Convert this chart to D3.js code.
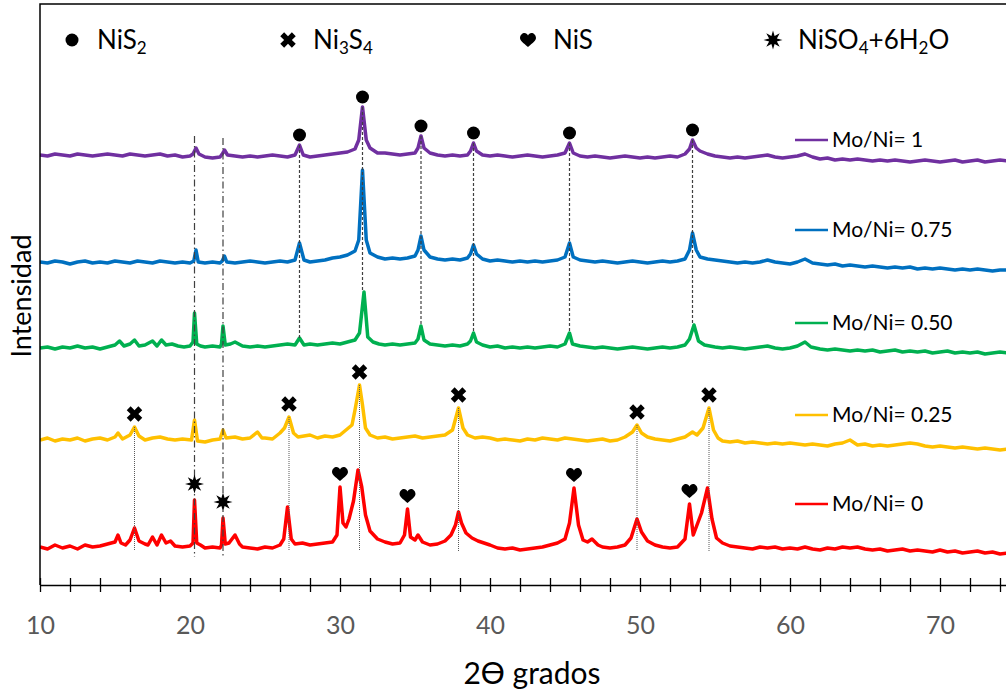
<!DOCTYPE html>
<html>
<head>
<meta charset="utf-8">
<script src="https://cdn.jsdelivr.net/npm/d3@7"></script>
<style>
  body { margin: 0; background: #fff; }
  svg { display: block; font-family: Lato, "Open Sans", sans-serif; }
</style>
</head>
<body>
<div id="chart-area"></div>
<script>
// XRD patterns, [2θ, intensity] (arbitrary units)
const seriesNames = ["Mo/Ni= 0", "Mo/Ni= 0.25", "Mo/Ni= 0.50", "Mo/Ni= 0.75", "Mo/Ni= 1"];
const seriesColors = ["#FF0000", "#FFC000", "#00B050", "#0070C0", "#7030A0"];
const seriesOffsets = [0, 105, 200, 285, 390];

const moNi0 = [[10,38],[10.5,36],[11,40],[11.5,37],[12,39],[12.5,36],[13,40],[13.5,38],[14,39],[14.5,41],[15,43],[15.2,50],[15.4,42],[15.7,40],[16,45],[16.3,57],[16.6,44],[17,41],[17.2,40],[17.5,48],[17.8,40],[18.1,50],[18.4,42],[18.7,44],[19,39],[19.5,38],[20,39],[20.2,42],[20.3,85],[20.45,42],[20.7,40],[21,37],[21.5,38],[22,37],[22.1,40],[22.2,67],[22.35,41],[22.6,42],[23,50],[23.3,41],[23.5,38],[24,37],[24.5,36],[25,38],[25.5,37],[26,40],[26.25,46],[26.5,78],[26.75,46],[27,41],[27.5,42],[28,40],[28.5,41],[29,42],[29.5,43],[29.8,50],[30,98],[30.2,62],[30.4,58],[30.6,66],[30.9,84],[31.2,115],[31.45,98],[31.7,70],[32,54],[32.5,46],[33,43],[33.5,41],[34,42],[34.3,50],[34.5,76],[34.7,48],[35,45],[35.2,50],[35.5,43],[36,40],[36.5,41],[37,44],[37.4,50],[37.7,60],[37.9,73],[38.1,62],[38.4,52],[38.8,47],[39.2,44],[39.6,42],[40,40],[40.5,37],[41,36],[41.5,37],[42,35],[42.5,36],[43,37],[43.5,38],[44,40],[44.5,42],[45,46],[45.3,62],[45.6,97],[45.9,60],[46.2,45],[46.5,43],[46.8,46],[47.2,40],[47.5,38],[48,37],[48.5,38],[49,40],[49.4,47],[49.8,66],[50.1,53],[50.5,44],[51,40],[51.5,38],[52,37],[52.5,38],[53,46],[53.3,81],[53.55,50],[53.8,60],[54.1,72],[54.5,97],[54.8,66],[55.1,47],[55.5,42],[56,39],[56.5,38],[57,37],[57.5,36],[58,38],[58.5,37],[59,38],[59.5,36],[60,37],[60.5,36],[61,38],[61.5,36],[62,35],[62.5,37],[63,36],[63.5,38],[64,37],[64.5,38],[65,36],[65.5,35],[66,36],[66.5,34],[67,35],[67.5,36],[68,34],[68.5,35],[69,34],[69.5,33],[70,35],[70.5,33],[71,34],[71.5,32],[72,33],[72.5,34],[73,32],[73.5,33],[74,31],[74.5,32],[75,32]];

const moNi025 = [[10,40],[10.5,42],[11,39],[11.5,41],[12,40],[12.5,42],[13,39],[13.5,41],[14,42],[14.5,40],[15,43],[15.2,47],[15.5,41],[16,45],[16.3,53],[16.6,44],[17,40],[17.5,42],[18,43],[18.5,41],[19,40],[19.5,41],[20.1,40],[20.3,60],[20.5,39],[21,38],[21.5,40],[22,41],[22.2,50],[22.4,42],[23,43],[23.5,41],[24,42],[24.5,48],[24.8,42],[25,42],[25.5,41],[26,47],[26.3,52],[26.6,63],[26.9,47],[27.2,43],[27.6,44],[28,45],[28.5,42],[29,44],[29.5,43],[30,45],[30.4,50],[30.8,55],[31,70],[31.3,95],[31.5,75],[31.7,52],[32,45],[32.5,42],[33,43],[33.5,41],[34,42],[34.5,43],[35,44],[35.5,42],[36,43],[36.5,44],[37,45],[37.5,50],[37.9,72],[38.2,52],[38.5,45],[39,42],[39.5,43],[40,42],[40.5,40],[41,41],[41.5,40],[42,39],[42.5,41],[43,40],[43.5,42],[44,41],[44.5,40],[45,42],[45.5,41],[46,40],[46.5,39],[47,40],[47.5,41],[48,39],[48.5,40],[49,43],[49.5,48],[49.8,55],[50.1,47],[50.5,43],[51,41],[51.5,40],[52,39],[52.5,41],[53,43],[53.5,48],[53.8,45],[54.2,52],[54.6,72],[54.9,50],[55.2,42],[55.5,39],[56,38],[56.5,39],[57,37],[57.5,38],[58,37],[58.5,36],[59,37],[59.5,36],[60,37],[60.5,36],[61,35],[61.5,36],[62,35],[62.5,34],[63,36],[63.5,37],[64,40],[64.5,35],[65,36],[65.5,34],[66,35],[66.5,34],[67,35],[67.5,36],[68,37],[68.5,36],[69,34],[69.5,33],[70,34],[70.5,33],[71,32],[71.5,33],[72,32],[72.5,31],[73,32],[73.5,31],[74,30],[74.5,31],[75,30]];

const moNi050 = [[10,37],[10.5,38],[11,36],[11.5,38],[12,37],[12.5,39],[13,37],[13.5,38],[14,36],[14.5,38],[15,40],[15.3,44],[15.6,39],[16,41],[16.3,45],[16.6,39],[17,40],[17.5,44],[17.8,39],[18.1,45],[18.4,40],[18.8,41],[19.2,39],[19.6,38],[20,39],[20.2,43],[20.3,72],[20.45,41],[20.7,39],[21,38],[21.5,39],[22,38],[22.1,41],[22.2,59],[22.35,40],[22.7,41],[23,43],[23.5,39],[24,38],[24.5,39],[25,38],[25.5,39],[26,40],[26.5,41],[27,40],[27.3,47],[27.6,40],[28,41],[28.5,40],[29,41],[29.5,42],[30,41],[30.5,43],[31,45],[31.3,52],[31.6,93],[31.85,48],[32.2,43],[32.6,41],[33,40],[33.5,41],[34,40],[34.5,41],[35,42],[35.2,46],[35.4,59],[35.6,45],[36,41],[36.5,40],[37,39],[37.5,40],[38,39],[38.5,41],[38.7,44],[38.9,52],[39.1,43],[39.5,40],[40,38],[40.5,39],[41,37],[41.5,38],[42,37],[42.5,38],[43,37],[43.5,38],[44,39],[44.5,38],[45,41],[45.3,52],[45.5,41],[46,39],[46.5,38],[47,37],[47.5,38],[48,37],[48.5,36],[49,37],[49.5,38],[50,37],[50.5,36],[51,37],[51.5,38],[52,37],[52.5,38],[53,40],[53.3,46],[53.6,60],[53.9,44],[54.3,40],[55,38],[55.5,37],[56,38],[56.5,37],[57,36],[57.5,37],[58,38],[58.5,39],[59,37],[59.5,36],[60,37],[60.5,39],[61,43],[61.4,38],[62,36],[62.5,35],[63,36],[63.5,35],[64,34],[64.5,35],[65,34],[65.5,35],[66,33],[66.5,34],[67,35],[67.5,33],[68,34],[68.5,33],[69,34],[69.5,32],[70,33],[70.5,34],[71,32],[71.5,33],[72,32],[72.5,33],[73,31],[73.5,32],[74,33],[74.5,32],[75,32]];

const moNi075 = [[10,38],[10.5,37],[11,39],[11.5,38],[12,36],[12.5,38],[13,39],[13.5,37],[14,38],[14.5,37],[15,39],[15.5,38],[16,37],[16.5,39],[17,38],[17.5,37],[18,39],[18.5,38],[19,37],[19.5,38],[20,37],[20.25,39],[20.4,50],[20.55,38],[21,37],[21.5,38],[22,37],[22.15,39],[22.3,44],[22.45,38],[23,37],[23.5,38],[24,39],[24.5,38],[25,37],[25.5,38],[26,39],[26.5,38],[27,40],[27.3,57],[27.6,40],[28,38],[28.5,39],[29,40],[29.5,42],[30,43],[30.5,45],[31,49],[31.25,60],[31.5,130],[31.75,60],[32,47],[32.5,43],[33,41],[33.5,42],[34,41],[34.5,42],[35,44],[35.2,50],[35.4,64],[35.6,50],[36,43],[36.5,41],[37,40],[37.5,41],[38,40],[38.5,42],[38.7,46],[38.9,55],[39.1,46],[39.5,41],[40,39],[40.5,40],[41,39],[41.5,38],[42,39],[42.5,38],[43,39],[43.5,38],[44,39],[44.5,40],[45,43],[45.3,57],[45.55,43],[46,40],[46.5,39],[47,38],[47.5,39],[48,38],[48.5,37],[49,38],[49.5,39],[50,38],[50.5,37],[51,38],[51.5,39],[52,38],[52.5,39],[53,41],[53.3,50],[53.5,67],[53.75,50],[54,43],[54.5,41],[55,40],[55.5,39],[56,38],[56.5,37],[57,38],[57.5,37],[58,38],[58.5,40],[59,38],[59.5,37],[60,36],[60.5,38],[61,41],[61.5,37],[62,36],[62.5,35],[63,36],[63.5,34],[64,35],[64.5,34],[65,33],[65.5,34],[66,33],[66.5,32],[67,33],[67.5,32],[68,33],[68.5,31],[69,32],[69.5,31],[70,32],[70.5,31],[71,30],[71.5,31],[72,30],[72.5,31],[73,30],[73.5,29],[74,30],[74.5,30],[75,30]];

const moNi1 = [[10,40],[10.5,39],[11,41],[11.5,40],[12,39],[12.5,41],[13,40],[13.5,39],[14,40],[14.5,41],[15,40],[15.5,39],[16,41],[16.5,40],[17,39],[17.5,40],[18,41],[18.5,39],[19,40],[19.5,38],[20,39],[20.2,41],[20.4,47],[20.6,41],[21,38],[21.5,37],[22,38],[22.15,41],[22.3,45],[22.5,40],[23,39],[23.5,38],[24,39],[24.5,38],[25,39],[25.5,40],[26,39],[26.5,38],[27,40],[27.3,50],[27.55,40],[28,38],[28.5,39],[29,40],[29.5,41],[30,42],[30.5,43],[31,46],[31.25,55],[31.5,88],[31.75,55],[32,47],[32.5,42],[33,42],[33.5,41],[34,40],[34.5,41],[35,42],[35.2,47],[35.4,59],[35.6,47],[36,42],[36.5,40],[37,39],[37.5,40],[38,39],[38.5,40],[38.7,44],[38.9,52],[39.1,44],[39.5,40],[40,39],[40.5,40],[41,39],[41.5,38],[42,39],[42.5,40],[43,39],[43.5,38],[44,39],[44.5,40],[45,42],[45.3,52],[45.55,42],[46,39],[46.5,38],[47,39],[47.5,38],[48,37],[48.5,38],[49,39],[49.5,38],[50,37],[50.5,38],[51,37],[51.5,38],[52,39],[52.5,38],[53,41],[53.3,46],[53.5,55],[53.75,47],[54,44],[54.5,41],[55,39],[55.5,38],[56,37],[56.5,38],[57,37],[58,39],[58.5,40],[59,38],[59.5,37],[60,38],[60.5,39],[61,41],[61.5,38],[62,36],[62.5,37],[63,35],[63.5,36],[64,35],[64.5,36],[65,35],[65.5,34],[66,35],[66.5,34],[67,35],[67.5,34],[68,33],[68.5,34],[69,35],[69.5,34],[70,33],[70.5,34],[71,35],[71.5,33],[72,34],[72.5,35],[73,33],[73.5,34],[74,35],[74.5,34],[75,35]];

const seriesData = [moNi0, moNi025, moNi050, moNi075, moNi1];

// Phase peak positions (2θ) and the pattern they are marked on
const nis2Peaks = [27.3, 31.5, 35.4, 38.9, 45.3, 53.5];   // on Mo/Ni= 1
const ni3s4Peaks = [16.3, 26.6, 31.3, 37.9, 49.8, 54.6];  // on Mo/Ni= 0.25
const nisPeaks = [30.0, 34.5, 45.6, 53.3];                // on Mo/Ni= 0
const niso4Peaks = [20.3, 22.2];                          // on Mo/Ni= 0

const legendNames = ["NiS2", "Ni3S4", "NiS", "NiSO4+6H2O"];
const xTickValues = [10, 20, 30, 40, 50, 60, 70];

// Layout
const chartWidth = 1006, chartHeight = 694;
const plot = { left: 40, top: 4, bottom: 585 };

const svg = d3.select("#chart-area").append("svg")
  .attr("width", chartWidth)
  .attr("height", chartHeight);

const xScale = d3.scaleLinear().domain([10, 75]).range([plot.left, plot.left + 65 * 15]);
const yScale = d3.scaleLinear().domain([0, 581]).range([plot.bottom, plot.top]);

svg.append("defs").append("clipPath").attr("id", "plot-clip")
  .append("rect").attr("x", plot.left).attr("y", plot.top)
  .attr("width", chartWidth - plot.left).attr("height", plot.bottom - plot.top);

// helper: highest point of a pattern near an angle
function peakValue(series, angle, win = 0.16) {
  const near = series.filter(d => Math.abs(d[0] - angle) <= win);
  return d3.max(near, d => d[1]);
}
function yAt(idx, value) { return yScale(value + seriesOffsets[idx]); }

// Patterns
const line = d3.line().x(d => xScale(d[0]));
const traces = svg.append("g").attr("clip-path", "url(#plot-clip)");
seriesData.forEach((series, i) => {
  traces.append("path")
    .datum(series)
    .attr("fill", "none")
    .attr("stroke", seriesColors[i])
    .attr("stroke-width", 3.5)
    .attr("stroke-linejoin", "round")
    .attr("d", line.y(d => yAt(i, d[1])));
});

// Guide lines through the peaks
const guides = svg.append("g").attr("fill", "none");
niso4Peaks.forEach(a => {
  guides.append("line")
    .attr("x1", xScale(a)).attr("x2", xScale(a))
    .attr("y1", yAt(4, peakValue(moNi1, a, 0.25)) - 12)
    .attr("y2", yAt(0, 28))
    .attr("stroke", "#404040").attr("stroke-width", 1.2)
    .attr("stroke-dasharray", "7,3,1.5,3");
});
nis2Peaks.forEach(a => {
  guides.append("line")
    .attr("x1", xScale(a)).attr("x2", xScale(a))
    .attr("y1", yAt(4, peakValue(moNi1, a)))
    .attr("y2", yAt(2, peakValue(moNi050, a, 0.25)))
    .attr("stroke", "#404040").attr("stroke-width", 1.2)
    .attr("stroke-dasharray", "3,2");
});
ni3s4Peaks.forEach(a => {
  guides.append("line")
    .attr("x1", xScale(a)).attr("x2", xScale(a))
    .attr("y1", yAt(1, peakValue(moNi025, a)))
    .attr("y2", yAt(0, 34))
    .attr("stroke", "#595959").attr("stroke-width", 1)
    .attr("stroke-dasharray", "1,1");
});

// Marker shapes
const heartPath = "M0,6 C-2,4 -8,0 -8,-3 C-8,-6 -5.5,-8 -3.5,-8 C-2,-8 -0.6,-7 0,-5.5 C0.6,-7 2,-8 3.5,-8 C5.5,-8 8,-6 8,-3 C8,0 2,4 0,6 Z";
const crossPath = d3.symbol(d3.symbolCross, 150)();
function starPath(points, outer, inner) {
  const pts = d3.range(points * 2).map(k => {
    const r = k % 2 ? inner : outer, t = Math.PI * k / points - Math.PI / 2;
    return [r * Math.cos(t), r * Math.sin(t)];
  });
  return "M" + pts.join("L") + "Z";
}
const asteriskPath = starPath(8, 9.5, 4.2);

function drawMarker(g, kind, x, y) {
  if (kind === 0) g.append("circle").attr("cx", x).attr("cy", y).attr("r", 6.5).attr("fill", "#000");
  if (kind === 1) g.append("path").attr("d", crossPath).attr("transform", `translate(${x},${y}) rotate(45)`).attr("fill", "#000");
  if (kind === 2) g.append("path").attr("d", heartPath).attr("transform", `translate(${x},${y + 1})`).attr("fill", "#000");
  if (kind === 3) g.append("path").attr("d", asteriskPath).attr("transform", `translate(${x},${y})`).attr("fill", "#000");
}

const markers = svg.append("g");
nis2Peaks.forEach(a => drawMarker(markers, 0, xScale(a), yAt(4, peakValue(moNi1, a)) - 10));
ni3s4Peaks.forEach(a => drawMarker(markers, 1, xScale(a), yAt(1, peakValue(moNi025, a)) - 13));
nisPeaks.forEach(a => drawMarker(markers, 2, xScale(a), yAt(0, peakValue(moNi0, a)) - 13));
niso4Peaks.forEach(a => drawMarker(markers, 3, xScale(a), yAt(0, peakValue(moNi0, a)) - 16));

// Plot frame: left axis line and top border
svg.append("path")
  .attr("d", `M${plot.left},${plot.bottom}V${plot.top}H${chartWidth}`)
  .attr("fill", "none").attr("stroke", "#000").attr("stroke-width", 1.5);

// X axis with crossing ticks every 2 degrees
const xAxis = svg.append("g")
  .attr("transform", `translate(0,${plot.bottom})`)
  .call(d3.axisBottom(xScale)
    .tickValues(d3.range(10, 75, 2))
    .tickSizeOuter(0)
    .tickFormat(d => xTickValues.includes(d) ? d : ""));
xAxis.select(".domain").attr("stroke", "#000").attr("stroke-width", 1.5);
xAxis.selectAll(".tick line").attr("y1", -7).attr("y2", 7).attr("stroke", "#000").attr("stroke-width", 1.3);
xAxis.selectAll(".tick text")
  .attr("y", 31)
  .style("font-family", "Lato, sans-serif")
  .style("font-size", "25px")
  .attr("fill", "#595959");

svg.append("text")
  .attr("x", 532).attr("y", 684)
  .attr("text-anchor", "middle")
  .style("font-size", "30px")
  .text("2Ɵ grados");

svg.append("text")
  .attr("transform", "translate(31,296) rotate(-90)")
  .attr("text-anchor", "middle")
  .style("font-size", "27px")
  .text("Intensidad");

// Pattern labels on the right
const labelY = [504, 415, 323, 230, 140];
const labels = svg.append("g");
seriesNames.forEach((name, i) => {
  labels.append("line")
    .attr("x1", 795).attr("x2", 828).attr("y1", labelY[i]).attr("y2", labelY[i])
    .attr("stroke", seriesColors[i]).attr("stroke-width", 2.5);
  labels.append("text")
    .attr("x", 832).attr("y", labelY[i]).attr("dy", "0.35em")
    .style("font-size", "21px")
    .text(name);
});

// Phase legend along the top, with chemical subscripts
const legendX = [72, 288, 528, 773];
const legend = svg.append("g");
legendNames.forEach((name, i) => {
  drawMarker(legend, i, legendX[i], 40);
  const t = legend.append("text")
    .attr("x", legendX[i] + 25).attr("y", 40).attr("dy", "0.35em")
    .style("font-size", "26px");
  name.split(/(\d+)/).filter(s => s).forEach(part => {
    const isSub = /^\d+$/.test(part) && !(part === "6" && name.includes("+6"));
    t.append("tspan")
      .attr("baseline-shift", isSub ? "-28%" : null)
      .style("font-size", isSub ? "17px" : null)
      .text(part);
  });
});
</script>
</body>
</html>
